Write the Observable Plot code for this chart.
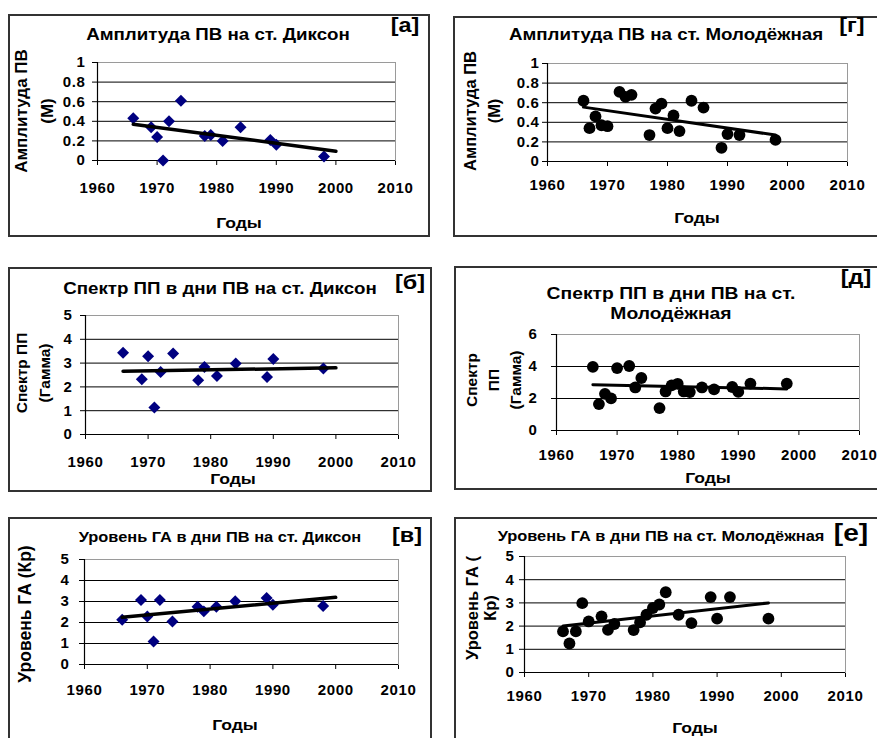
<!DOCTYPE html>
<html>
<head>
<meta charset="utf-8">
<script src="https://cdn.jsdelivr.net/npm/d3@7"></script>
<script src="https://cdn.jsdelivr.net/npm/@observablehq/plot@0.6"></script>
<style>
  html, body { margin: 0; padding: 0; background: #fff; }
  #page { position: relative; width: 877px; height: 738px; overflow: hidden; background: #fff;
          font-family: "Liberation Sans", Arial, sans-serif; font-weight: bold; color: #000; }
  .box { position: absolute; border: 2px solid #333; box-sizing: border-box; }
  .t { position: absolute; white-space: nowrap; text-align: center; transform: translate(-50%, -50%) scaleX(1.17); }
  .rot { position: absolute; white-space: nowrap; text-align: center; transform: translate(-50%, -50%) rotate(-90deg); }
</style>
</head>
<body>
<div id="page"></div>
<script>
// ---------------- DATA ----------------
const xTicks = [1960, 1970, 1980, 1990, 2000, 2010];

// Диксон
const yearsDikson = [1966, 1969, 1970, 1971, 1972, 1974, 1978, 1979, 1981, 1984, 1989, 1990, 1998];
const ampDikson   = [0.43, 0.34, 0.24, 0.00, 0.40, 0.61, 0.25, 0.26, 0.20, 0.34, 0.21, 0.16, 0.04];
const specDikson  = [3.43, 2.32, 3.29, 1.13, 2.63, 3.40, 2.28, 2.84, 2.46, 2.98, 2.42, 3.17, 2.77];
const gaDikson    = [2.13, 3.07, 2.29, 1.10, 3.07, 2.05, 2.75, 2.53, 2.75, 3.01, 3.17, 2.85, 2.79];

// Молодёжная
const yearsMol = [1966, 1967, 1968, 1969, 1970, 1972, 1973, 1974, 1977, 1978, 1979, 1980, 1981, 1982, 1984, 1986, 1989, 1990, 1992, 1998];
const ampMol   = [0.62, 0.34, 0.46, 0.37, 0.36, 0.71, 0.66, 0.68, 0.27, 0.54, 0.59, 0.34, 0.47, 0.31, 0.62, 0.55, 0.14, 0.28, 0.27, 0.22];
const specMol  = [3.98, 1.65, 2.29, 2.01, 3.90, 4.03, 2.69, 3.28, 1.40, 2.44, 2.82, 2.92, 2.44, 2.40, 2.69, 2.57, 2.72, 2.41, 2.93, 2.93];
const gaMol    = [1.77, 1.25, 1.77, 2.99, 2.20, 2.42, 1.84, 2.09, 1.83, 2.16, 2.49, 2.78, 2.93, 3.46, 2.49, 2.13, 3.25, 2.32, 3.25, 2.32];

// Trend lines (end points)
const trendYearsDikson = [1966, 2000];
const trendAmpDikson   = [0.37, 0.095];
const trendSpecDikson  = [2.66, 2.80];
const trendGaDikson    = [2.25, 3.20];
const trendYearsMol = [1966, 1998];
const trendAmpMol   = [0.555, 0.27];
const trendSpecMol  = [2.86, 2.60];
const trendGaMol    = [2.00, 3.00];

// Y ticks
const yTicksAmp  = [0, 0.2, 0.4, 0.6, 0.8, 1];
const yTicks5    = [0, 1, 2, 3, 4, 5];
const yTicks6    = [0, 2, 4, 6];

const xLabel = "Годы";

// ---------------- LAYOUT ----------------
const W = 877, H = 738;
const panels = [
  { tag: "[а]", title: "Амплитуда  ПВ на ст. Диксон", ylab: ["Амплитуда ПВ", "(М)"],
    years: yearsDikson, vals: ampDikson, ty: trendYearsDikson, tv: trendAmpDikson, yTicks: yTicksAmp,
    kind: "diamond", box: [8, 14, 430, 237], plot: [97, 62, 395, 160], xTickY: 187, yGap: 12,
    titleC: [218, 35], titleSize: 16, tagC: [405, 25], xlabC: [239, 222], ylabC: [35, 111], ylabLH: 26, ylabSize: 17 },
  { tag: "[г]", title: "Амплитуда ПВ на ст. Молодёжная", ylab: ["Амплитуда ПВ", "(М)"],
    years: yearsMol, vals: ampMol, ty: trendYearsMol, tv: trendAmpMol, yTicks: yTicksAmp,
    kind: "circle", box: [453, 16, 882, 237], plot: [547, 63, 847, 161], xTickY: 184, yGap: 8,
    titleC: [666, 35], titleSize: 16, tagC: [852, 25], xlabC: [697, 217], ylabC: [482, 111], ylabLH: 24, ylabSize: 16.5 },
  { tag: "[б]", title: "Спектр ПП в дни ПВ на ст. Диксон", ylab: ["Спектр ПП", "(Гамма)"],
    years: yearsDikson, vals: specDikson, ty: trendYearsDikson, tv: trendSpecDikson, yTicks: yTicks5,
    kind: "diamond", box: [8, 267, 432, 492], plot: [85, 315, 398, 434], xTickY: 461, yGap: 13,
    titleC: [220, 289], titleSize: 16, tagC: [410, 282], xlabC: [233, 478], ylabC: [33, 373], ylabLH: 23, ylabSize: 15.5 },
  { tag: "[д]", title: "Спектр ПП в дни ПВ на ст.<br>Молодёжная", ylab: ["Спектр", "ПП", "(Гамма)"],
    years: yearsMol, vals: specMol, ty: trendYearsMol, tv: trendSpecMol, yTicks: yTicks6,
    kind: "circle", box: [454, 266, 882, 490], plot: [556, 334, 859, 430], xTickY: 454, yGap: 19,
    titleC: [671, 303], titleSize: 16.5, titleLH: 20, tagC: [856, 277], xlabC: [708, 477], ylabC: [494, 380], ylabLH: 22, ylabSize: 15.5 },
  { tag: "[в]", title: "Уровень ГА в дни ПВ на ст. Диксон", ylab: ["Уровень ГА (Кр)"],
    years: yearsDikson, vals: gaDikson, ty: trendYearsDikson, tv: trendGaDikson, yTicks: yTicks5,
    kind: "diamond", box: [8, 517, 432, 745], plot: [84, 559, 398, 664], xTickY: 689, yGap: 15,
    titleC: [220, 537], titleSize: 14, tagC: [407, 535], xlabC: [235, 724], ylabC: [25, 614], ylabLH: 20, ylabSize: 17.5 },
  { tag: "[е]", title: "Уровень ГА в дни ПВ на ст. Молодёжная", ylab: ["Уровень ГА (", "Кр)"],
    years: yearsMol, vals: gaMol, ty: trendYearsMol, tv: trendGaMol, yTicks: yTicks5,
    kind: "circle", box: [454, 517, 882, 745], plot: [524, 556, 845, 672], xTickY: 695, yGap: 10,
    titleC: [661, 536], titleSize: 14, tagC: [851, 533], tagSize: 24, xlabC: [695, 727], ylabC: [481, 608], ylabLH: 18, ylabSize: 16.5 }
];

const page = document.getElementById("page");
const FONT = "'Liberation Sans', Arial, sans-serif";
const tickSize = 5;

function addText(cls, html, c, size, lh) {
  const d = document.createElement("div");
  d.className = cls;
  d.innerHTML = html;
  d.style.left = c[0] + "px";
  d.style.top = c[1] + "px";
  d.style.fontSize = size + "px";
  if (lh) d.style.lineHeight = lh + "px";
  page.appendChild(d);
}

for (const p of panels) {
  const b = document.createElement("div");
  b.className = "box";
  b.style.left = p.box[0] + "px";
  b.style.top = p.box[1] + "px";
  b.style.width = (p.box[2] - p.box[0]) + "px";
  b.style.height = (p.box[3] - p.box[1]) + "px";
  page.appendChild(b);

  const pts = p.years.map((x, i) => ({x, y: p.vals[i]}));
  const trend = p.ty.map((x, i) => ({x, y: p.tv[i]}));
  const ymax = p.yTicks[p.yTicks.length - 1];
  const [pl, pt, pr, pb] = p.plot;

  const dotMark = p.kind === "diamond"
    ? Plot.dot(pts, {x: "x", y: "y", symbol: "diamond2", r: 5.4, fill: "#000080", stroke: "none"})
    : Plot.dot(pts, {x: "x", y: "y", symbol: "circle", r: 5.9, fill: "#000", stroke: "none"});

  const svg = Plot.plot({
    width: W, height: H,
    marginLeft: pl, marginRight: W - pr, marginTop: pt, marginBottom: H - pb,
    style: {background: "transparent", fontFamily: FONT, fontSize: "15px", fontWeight: "bold", letterSpacing: "0.6px", color: "#000", overflow: "visible"},
    x: {domain: [1960, 2010], ticks: xTicks, tickFormat: d => String(d), tickSize, tickPadding: (p.xTickY - pb) - tickSize - 5, label: null},
    y: {domain: [0, ymax], ticks: p.yTicks, tickFormat: d => String(d), tickSize, tickPadding: p.yGap - tickSize, label: null},
    marks: [
      Plot.frame({fill: "#fff", stroke: "#9a9a9a", strokeWidth: 1}),
      Plot.ruleY(p.yTicks.filter(t => t > 0 && t < ymax), {stroke: "#000", strokeWidth: 1}),
      Plot.ruleY([0], {stroke: "#000", strokeWidth: 1.2}),
      Plot.ruleX([1960], {stroke: "#000", strokeWidth: 1.2}),
      dotMark,
      Plot.line(trend, {x: "x", y: "y", stroke: "#000", strokeWidth: p.kind === "diamond" ? 3.5 : 3})
    ]
  });
  svg.style.position = "absolute";
  svg.style.left = "0px";
  svg.style.top = "0px";
  svg.style.maxWidth = "none";
  page.appendChild(svg);

  addText("t", p.title, p.titleC, p.titleSize, p.titleLH);
  addText("t", p.tag, p.tagC, p.tagSize || 20);
  addText("t", xLabel, p.xlabC, 15);
  addText("rot", p.ylab.join("<br>"), p.ylabC, p.ylabSize, p.ylabLH);
}
</script>
</body>
</html>
